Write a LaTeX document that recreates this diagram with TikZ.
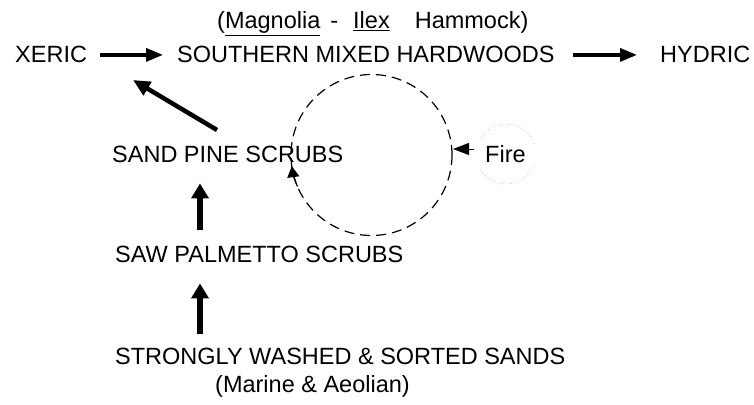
\documentclass[tikz,border=0pt]{standalone}
\usepackage{fontspec}
\setmainfont{Liberation Sans}
\usetikzlibrary{arrows.meta}
\begin{document}
\begin{tikzpicture}[x=1pt,y=1pt,
  lbl/.style={anchor=base west,inner sep=0pt,font=\fontsize{23.5}{28}\selectfont},
  toparr/.style={line width=3.4pt,-{Triangle[length=17pt,width=13pt]}},
  bigarr/.style={line width=5.5pt,-{Triangle[length=15pt,width=17pt]}},
  diagarr/.style={line width=4.5pt,-{Triangle[length=17pt,width=15pt]}},
  cyc/.style={draw,line width=1.2pt,dash pattern=on 10pt off 6pt},
  ring/.style={draw=gray!70,line width=0.6pt,dotted}]
\useasboundingbox (0,0) rectangle (754,-404);
% texts
\node[lbl] (mag) at (217,-29) {(\underline{Magnolia}\hspace{10pt}-\hspace{15pt}\underline{Ilex}\hspace{25pt}Hammock)};
\node[lbl] (xeric) at (15,-63) {XERIC};
\node[lbl] (smh) at (177,-63) {SOUTHERN MIXED HARDWOODS};
\node[lbl] (hydric) at (660,-63) {HYDRIC};
\node[lbl] (spine) at (112,-162) {SAND PINE SCRUBS};
\node[lbl] (saw) at (115,-262) {SAW PALMETTO SCRUBS};
\node[lbl] (sands) at (115,-364) {STRONGLY WASHED \& SORTED SANDS};
\node[lbl] (marine) at (215,-392) {(Marine \& Aeolian)};
\node[lbl] (fire) at (485,-162) {Fire};
% cycle and fire ring
\node[circle,minimum size=161pt,inner sep=0pt,cyc] (cycle) at (371.5,-155) {};
\node[circle,minimum size=60pt,inner sep=0pt] (firering) at (506,-154) {};
\draw[ring] (firering.center) ++(20:30) arc (20:150:30);
\draw[ring] (firering.center) ++(210:30) arc (210:345:30);
% top arrows
\draw[toparr,shorten <=13pt,shorten >=14pt] (xeric.east) -- (smh.west);
\draw[toparr,shorten <=18pt,shorten >=23pt] (smh.east) -- (hydric.west);
% diagonal
\coordinate (dtail) at (217,-130);
\coordinate (dtip) at (133,-80);
\draw[diagarr] (dtail) -- (dtip);
% vertical arrows
\coordinate (vx) at (200,0);
\draw[bigarr,shorten <=13pt,shorten >=21pt] (sands.north -| vx) -- (saw.south -| vx);
\draw[bigarr,shorten <=15pt,shorten >=21pt] (saw.north -| vx) -- (spine.south -| vx);
% arrow on cycle
\draw[line width=1.2pt,-{Triangle[length=11pt,width=12pt]}] (cycle.center) ++(203:80.5) arc (203:188:80.5);
% fire arrow
\coordinate (fa) at (474,-149);
\coordinate (fb) at (453,-149);
\draw[line width=1pt,-{Triangle[length=16pt,width=12pt]}] (fa) -- (fb);
\end{tikzpicture}
\end{document}
